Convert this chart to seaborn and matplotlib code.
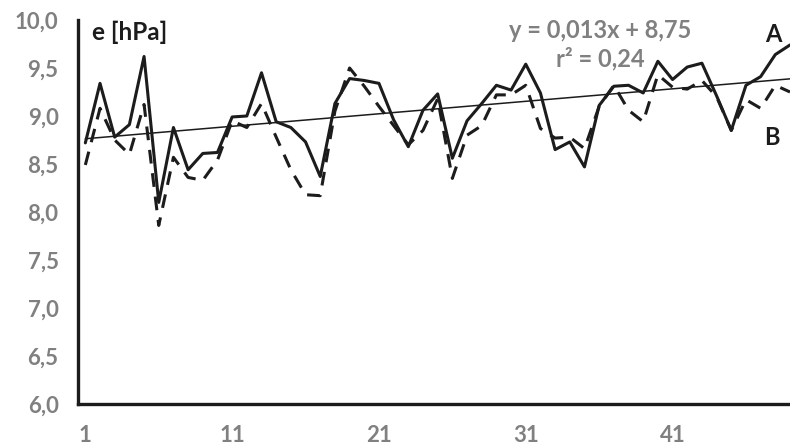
import matplotlib
matplotlib.use("Agg")
import matplotlib.pyplot as plt
import matplotlib.ticker as mticker
import numpy as np
import pandas as pd
import seaborn as sns

# Water vapour pressure e [hPa], two series over 49 consecutive periods
periods = list(range(1, 50))
series_a = [8.72, 9.34, 8.78, 8.91, 9.62, 8.10, 8.88, 8.44, 8.61, 8.62,
            8.99, 9.00, 9.45, 8.94, 8.88, 8.73, 8.37, 9.13, 9.39, 9.37,
            9.34, 8.96, 8.68, 9.06, 9.23, 8.56, 8.95, 9.13, 9.32, 9.27,
            9.54, 9.24, 8.65, 8.73, 8.47, 9.11, 9.31, 9.32, 9.24, 9.57,
            9.38, 9.51, 9.55, 9.21, 8.85, 9.32, 9.41, 9.64, 9.74]
series_b = [8.49, 9.08, 8.75, 8.60, 9.12, 7.86, 8.57, 8.36, 8.33, 8.54,
            8.95, 8.88, 9.13, 8.78, 8.44, 8.18, 8.17, 9.05, 9.50, 9.31,
            9.10, 8.90, 8.70, 8.85, 9.18, 8.35, 8.80, 8.90, 9.22, 9.22,
            9.32, 8.87, 8.77, 8.78, 8.66, 9.10, 9.32, 9.06, 8.94, 9.43,
            9.30, 9.28, 9.37, 9.20, 8.85, 9.17, 9.08, 9.32, 9.25]
trend_slope = 0.013
trend_intercept = 8.75
r_squared = 0.24
y_ticks = [6.0, 6.5, 7.0, 7.5, 8.0, 8.5, 9.0, 9.5, 10.0]
x_labels = [1, 11, 21, 31, 41]

df = pd.DataFrame({"period": periods, "A": series_a, "B": series_b})
df["trend"] = trend_slope * df["period"] + trend_intercept

sns.set_style("white")
plt.rcParams["font.family"] = ["Lato", "DejaVu Sans"]
plt.rcParams["font.weight"] = "bold"

fig = plt.figure(figsize=(7.9, 4.48), dpi=100)
ax = fig.add_axes([78 / 790, 44 / 448, 712 / 790, 384 / 448])

ink = "#1c1c1c"
grey = "#808080"

sns.lineplot(data=df, x="period", y="trend", ax=ax, color=ink, lw=1.1)
sns.lineplot(data=df, x="period", y="B", ax=ax, color=ink, lw=2.2,
             dashes=False, linestyle=(0, (4.5, 3.2)))
sns.lineplot(data=df, x="period", y="A", ax=ax, color=ink, lw=2.2)

ax.set_xlim(0.5, 49.0)
ax.set_ylim(6.0, 10.0)
ax.set_xlabel("")
ax.set_ylabel("")

# y axis: ticks every 0,5 with comma decimals
ax.set_yticks(y_ticks)
ax.yaxis.set_major_formatter(mticker.FuncFormatter(lambda v, p: f"{v:.1f}".replace(".", ",")))
ax.tick_params(axis="y", which="major", direction="out", length=5, width=2,
               color=ink, labelsize=16, labelcolor=grey, pad=9)

# x axis: tick marks between categories every 5, labels every 10
ax.set_xticks(np.arange(0.5, 49, 5))
ax.set_xticklabels([])
ax.set_xticks(x_labels, minor=True)
ax.set_xticklabels([str(v) for v in x_labels], minor=True)
ax.tick_params(axis="x", which="major", direction="out", length=5, width=2, color=ink)
ax.tick_params(axis="x", which="minor", length=0, labelsize=16, labelcolor=grey, pad=15)

for lab in ax.get_xticklabels(minor=True) + ax.get_yticklabels():
    lab.set_fontweight("bold")

for side in ["top", "right"]:
    ax.spines[side].set_visible(False)
for side in ["left", "bottom"]:
    ax.spines[side].set_color(ink)
    ax.spines[side].set_linewidth(2.4)

ax.text(0.02, 0.969, "e [hPa]", transform=ax.transAxes, ha="left", va="center",
        fontsize=17.5, fontweight="bold", color=ink)
eq = f"y = {trend_slope:.3f}x + {trend_intercept:.2f}".replace(".", ",")
ax.text(0.733, 0.972, eq, transform=ax.transAxes, ha="center", va="center",
        fontsize=17, fontweight="bold", color=grey)
ax.text(0.733, 0.899, f"r² = {r_squared:.2f}".replace(".", ","), transform=ax.transAxes,
        ha="center", va="center", fontsize=17, fontweight="bold", color=grey)
ax.text(0.976, 0.961, "A", transform=ax.transAxes, ha="center", va="center",
        fontsize=17, fontweight="bold", color=ink)
ax.text(0.975, 0.695, "B", transform=ax.transAxes, ha="center", va="center",
        fontsize=17, fontweight="bold", color=ink)

fig.savefig("out.png", dpi=100)
